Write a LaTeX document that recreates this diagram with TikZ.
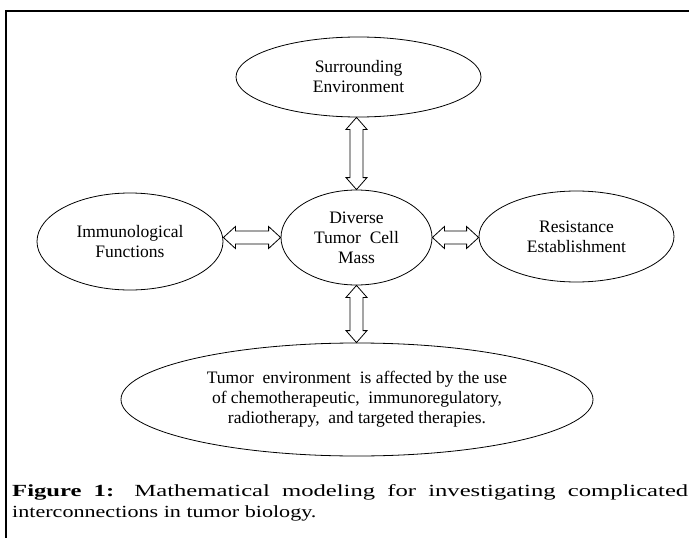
\documentclass[tikz,border=0pt]{standalone}
\usepackage{fontspec}
\setmainfont{Liberation Serif}
\newfontfamily\capfont[FakeStretch=1.3]{Liberation Serif}
\newfontfamily\capwide[FakeStretch=1.45]{Liberation Serif}
\usetikzlibrary{shapes.geometric,calc}
\tikzset{
    blob/.style={ellipse,draw,line width=0.8pt,inner sep=0pt,align=center,font=\fontsize{17.5}{20}\selectfont},
    vlink/.style={line width=0.8pt,line join=miter,to path={let \p1=(\tikztostart), \p2=(\tikztotarget) in
        (\x1,\y1) -- (\x1-10.5pt,\y1+12pt) -- (\x1-6.5pt,\y1+12pt) -- (\x1-6.5pt,\y2-12pt) -- (\x1-10.5pt,\y2-12pt)
        -- (\x1,\y2) -- (\x1+10.5pt,\y2-12pt) -- (\x1+6.5pt,\y2-12pt) -- (\x1+6.5pt,\y1+12pt) -- (\x1+10.5pt,\y1+12pt) -- cycle}},
    hlink/.style={line width=0.8pt,line join=miter,to path={let \p1=(\tikztostart), \p2=(\tikztotarget) in
        (\x1,\y1) -- (\x1+12pt,\y1+11pt) -- (\x1+12pt,\y1+6.5pt) -- (\x2-12pt,\y1+6.5pt) -- (\x2-12pt,\y1+11pt)
        -- (\x2,\y1) -- (\x2-12pt,\y1-11pt) -- (\x2-12pt,\y1-6.5pt) -- (\x1+12pt,\y1-6.5pt) -- (\x1+12pt,\y1-11pt) -- cycle}}
}

\begin{document}
\begin{tikzpicture}[x=1pt,y=-1pt]
\useasboundingbox (0,0) rectangle (689,538);
\draw[line width=2pt] (5.5,538) -- (5.5,11) -- (689,11);

\node[blob,minimum width=245pt,minimum height=80pt] (env) at (358.5,77) {Surrounding\\Environment};
\node[blob,minimum width=151pt,minimum height=95pt] (tumor) at (356.5,237.5) {Diverse\\Tumor\ \ Cell\\Mass};
\node[blob,minimum width=186pt,minimum height=97pt] (immuno) at (130,241.5) {Immunological\\Functions};
\node[blob,minimum width=195pt,minimum height=91pt] (resist) at (576.5,236.5) {Resistance\\Establishment};
\node[blob,minimum width=472pt,minimum height=113pt] (therapy) at (357,399.5) {Tumor\ \ environment\ \ is affected by the use\\of chemotherapeutic,\ \ immunoregulatory,\\radiotherapy,\ \ and targeted therapies.};

\draw[vlink] (tumor.north) to (tumor.north |- env.south);
\draw[vlink] (therapy.north -| tumor.south) to (tumor.south);
\draw[hlink] (tumor.west -| immuno.east) to (tumor.west);
\draw[hlink] (tumor.east) to (tumor.east -| resist.west);

\node[anchor=base west,inner sep=0pt,text width=676pt,align=justify,font=\fontsize{17}{21}\selectfont] (cap) at (12,496) {\capwide\textbf{Figure 1:} Mathematical modeling for investigating complicated\linebreak\capfont interconnections in tumor biology.};
\end{tikzpicture}
\end{document}
